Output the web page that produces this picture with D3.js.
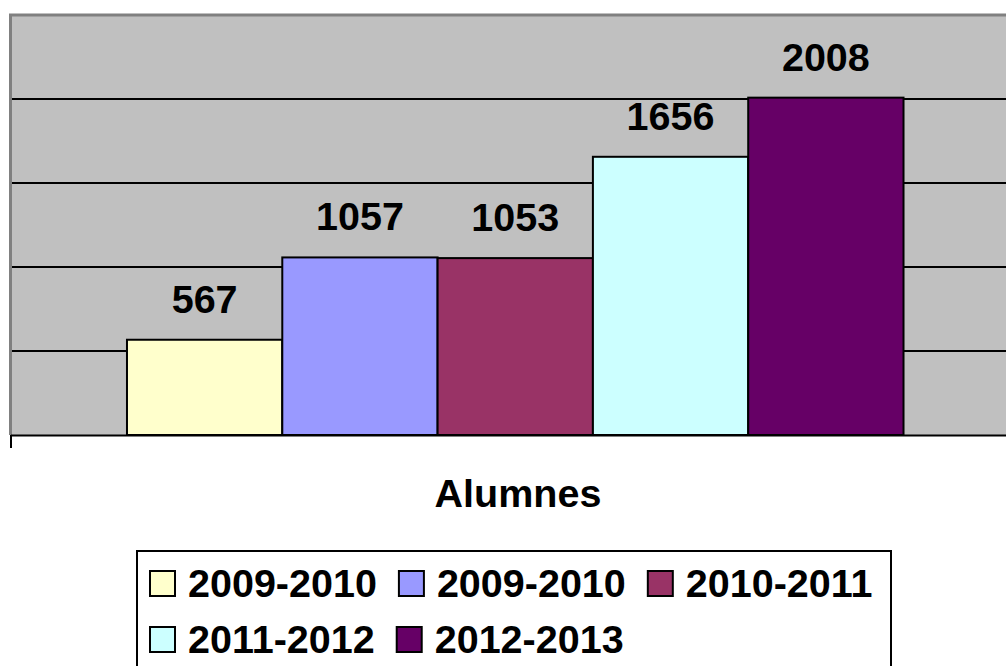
<!DOCTYPE html>
<html>
<head>
<meta charset="utf-8">
<script src="https://cdn.jsdelivr.net/npm/d3@7"></script>
<style>
  html, body { margin: 0; padding: 0; background: #ffffff; }
  svg { display: block; }
  text { font-family: "Liberation Sans", Arial, sans-serif; font-weight: bold; fill: #000; }
</style>
</head>
<body>
<svg id="chart" width="1006" height="666"></svg>
<script>
// ---- Data ----
const seriesNames = ["2009-2010", "2009-2010", "2010-2011", "2011-2012", "2012-2013"];
const seriesValues = [567, 1057, 1053, 1656, 2008];
const seriesColors = ["#FFFFCC", "#9999FF", "#993366", "#CCFFFF", "#660066"];
const gridValues = [500, 1000, 1500, 2000];
const axisTitle = "Alumnes";
const yMax = 2500;

// ---- Layout ----
const W = 1006, H = 666;
const FS = 39.5;
const plot = { left: 10.5, right: 1020, top: 15, bottom: 435 };
const svg = d3.select("#chart");
svg.append("rect").attr("width", W).attr("height", H).attr("fill", "#ffffff");

const ids = seriesValues.map((d, i) => i);
const x = d3.scaleBand().domain(ids).range([plot.left, plot.right]).paddingInner(0).paddingOuter(0.75);
const y = d3.scaleLinear().domain([0, yMax]).range([plot.bottom, plot.top]);

// plot background
svg.append("rect")
  .attr("x", plot.left).attr("y", plot.top)
  .attr("width", plot.right - plot.left).attr("height", plot.bottom - plot.top)
  .attr("fill", "#C0C0C0");

// plot border (top & left, gray)
svg.append("path")
  .attr("d", `M${plot.left},${plot.bottom} V${plot.top} H${plot.right}`)
  .attr("fill", "none").attr("stroke", "#808080").attr("stroke-width", 3);

// gridlines
svg.append("g").selectAll("line").data(gridValues).join("line")
  .attr("x1", plot.left + 1.5).attr("x2", plot.right)
  .attr("y1", d => y(d)).attr("y2", d => y(d))
  .attr("stroke", "#000").attr("stroke-width", 2);

// bars
svg.append("g").selectAll("rect").data(seriesValues).join("rect")
  .attr("x", (d, i) => x(i))
  .attr("y", d => y(d))
  .attr("width", x.bandwidth())
  .attr("height", d => y(0) - y(d))
  .attr("fill", (d, i) => seriesColors[i])
  .attr("stroke", "#000").attr("stroke-width", 2);

// x axis line + tick at category boundary
const xAxisScale = d3.scalePoint().domain(["start", "end"]).range([plot.left, plot.right]);
const xAxis = d3.axisBottom(xAxisScale).tickSize(13).tickFormat("").tickSizeOuter(0);
const gx = svg.append("g").attr("transform", `translate(0,${plot.bottom})`).call(xAxis);
gx.select(".domain").attr("stroke", "#000").attr("stroke-width", 2);
gx.selectAll(".tick line").attr("stroke", "#000").attr("stroke-width", 2);

// data labels
svg.append("g").selectAll("text").data(seriesValues).join("text")
  .attr("x", (d, i) => x(i) + x.bandwidth() / 2)
  .attr("y", d => y(d) - 27)
  .attr("text-anchor", "middle")
  .attr("font-size", FS)
  .text(d => d);

// axis title
svg.append("text")
  .attr("x", 518).attr("y", 507)
  .attr("text-anchor", "middle")
  .attr("font-size", FS)
  .text(axisTitle);

// legend
svg.append("rect")
  .attr("x", 137).attr("y", 551).attr("width", 754).attr("height", 200)
  .attr("fill", "#fff").attr("stroke", "#000").attr("stroke-width", 2);

const rows = [[0, 1, 2], [3, 4]];
const rowY = [571, 627];
const lg = svg.append("g");
rows.forEach((row, r) => {
  let cx = 150;
  row.forEach(i => {
    lg.append("rect")
      .attr("x", cx).attr("y", rowY[r]).attr("width", 25).attr("height", 25)
      .attr("fill", seriesColors[i]).attr("stroke", "#000").attr("stroke-width", 2);
    const t = lg.append("text")
      .attr("x", cx + 38).attr("y", rowY[r] + 26)
      .attr("font-size", FS)
      .text(seriesNames[i]);
    cx = cx + 38 + t.node().getComputedTextLength() + 22;
  });
});
</script>
</body>
</html>
